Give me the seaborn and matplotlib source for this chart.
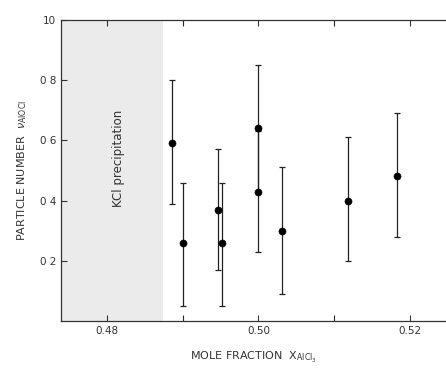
import numpy as np
import pandas as pd
import matplotlib.pyplot as plt
import seaborn as sns

# data
x_frac = [0.4886, 0.4900, 0.4947, 0.4952, 0.5000, 0.5000, 0.5031, 0.5119, 0.5183]
nu = [0.59, 0.26, 0.37, 0.26, 0.64, 0.43, 0.30, 0.40, 0.48]
nu_lo = [0.39, 0.05, 0.17, 0.05, 0.43, 0.23, 0.09, 0.20, 0.28]
nu_hi = [0.80, 0.46, 0.57, 0.46, 0.85, 0.63, 0.51, 0.61, 0.69]
kcl_edge = 0.4874

x_ticks = [0.48, 0.50, 0.52]
y_ticks = [0.2, 0.4, 0.6, 0.8, 1.0]
y_ticklabels = ["0 2", "0 4", "0 6", "0 8", "10"]

sns.set_style("ticks")
plt.rcParams["font.family"] = ["DejaVu Sans"]

df = pd.DataFrame({"x": x_frac, "nu": nu, "lo": nu_lo, "hi": nu_hi})

fig = plt.figure(figsize=(4.46, 3.71), dpi=100)
ax = fig.add_axes([0.137, 0.135, 0.863, 0.811])

# KCl precipitation region
ax.axvspan(0.4739, kcl_edge, color="#ebebeb", lw=0, zorder=0)
ax.text(0.4815, 0.54, "KCl precipitation", rotation=90, ha="center", va="center",
        fontsize=8.5, color="#333333")

yerr = np.array([df["nu"] - df["lo"], df["hi"] - df["nu"]])
ax.errorbar(df["x"], df["nu"], yerr=yerr, fmt="none", ecolor="#222222",
            elinewidth=0.9, capsize=2, capthick=0.9, zorder=2)
sns.scatterplot(data=df, x="x", y="nu", ax=ax, color="black", s=26,
                edgecolor="black", zorder=3, legend=False)

ax.set_xlim(0.4739, 0.5248)
ax.set_ylim(0.0, 1.0)
ax.set_xticks(x_ticks)
ax.set_xticklabels(["0.48", "0.50", "0.52"])
ax.set_xticks([0.49, 0.51], minor=True)
ax.set_yticks(y_ticks)
ax.set_yticklabels(y_ticklabels)
ax.tick_params(direction="in", top=True, labelsize=7.5, colors="#333333",
               length=4, width=0.8)
ax.tick_params(which="minor", direction="in", top=True, length=4, width=0.8)
for s in ax.spines.values():
    s.set_linewidth(0.9)
    s.set_color("#333333")
ax.spines["right"].set_visible(False)

ax.set_xlabel(r"MOLE FRACTION  $\mathregular{X_{AlCl_3}}$", fontsize=8,
              color="#333333", labelpad=10)
ax.set_ylabel(r"PARTICLE NUMBER  $\nu_{\mathregular{AlOCl}}$", fontsize=8,
              color="#333333", labelpad=8)

fig.savefig("out.png", dpi=100)
